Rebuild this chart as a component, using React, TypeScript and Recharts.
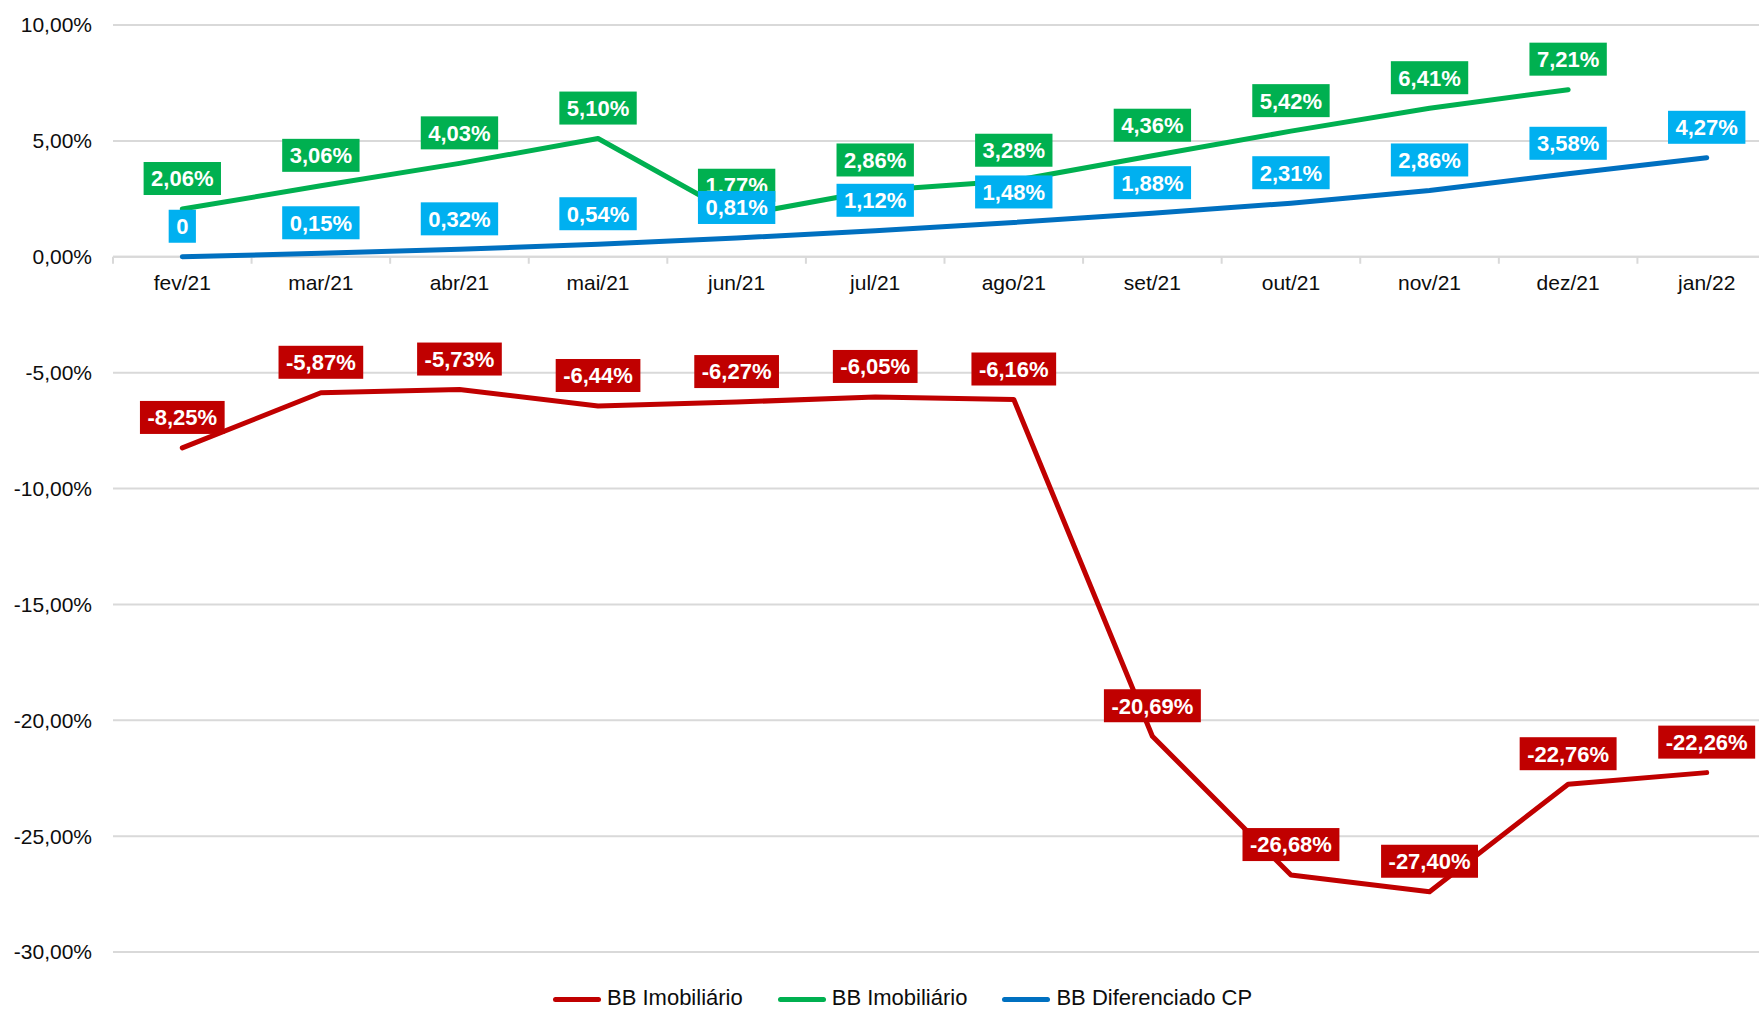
import React from "react";
import { LineChart, Line, XAxis, YAxis, CartesianGrid, ReferenceLine } from "recharts";

const months = ["fev/21", "mar/21", "abr/21", "mai/21", "jun/21", "jul/21", "ago/21", "set/21", "out/21", "nov/21", "dez/21", "jan/22"];
const imobiliarioRed = [-8.25, -5.87, -5.73, -6.44, -6.27, -6.05, -6.16, -20.69, -26.68, -27.4, -22.76, -22.26];
const imobiliarioGreen = [2.06, 3.06, 4.03, 5.1, 1.77, 2.86, 3.28, 4.36, 5.42, 6.41, 7.21, null];
const diferenciadoCP = [0, 0.15, 0.32, 0.54, 0.81, 1.12, 1.48, 1.88, 2.31, 2.86, 3.58, 4.27];
const yTicks = [-30, -25, -20, -15, -10, -5, 0, 5, 10];

const series = [
  { key: "red", name: "BB Imobiliário", color: "#c00000", box: "#c00000" },
  { key: "green", name: "BB Imobiliário", color: "#00b050", box: "#00b050" },
  { key: "blue", name: "BB Diferenciado CP", color: "#0070c0", box: "#00b0f0" },
];

const data = months.map((month, i) => ({
  month,
  red: imobiliarioRed[i],
  green: imobiliarioGreen[i],
  blue: diferenciadoCP[i],
}));

const FONT = '"Liberation Sans", Arial, sans-serif';
const CHART_W = 1776;
const CHART_H = 1010;
const YAXIS_W = 113;
const PLOT_W = CHART_W - YAXIS_W;
const HALF_STEP = PLOT_W / (2 * months.length);
const GRID = "#d9d9d9";
const INK = "#0d0d0d";

const pct = (v: number) => v.toFixed(2).replace(".", ",") + "%";
const fmtLabel = (v: number) => (v === 0 ? "0" : pct(v));

// rough bold Arial glyph widths (em)
const CW: Record<string, number> = { ",": 0.278, "-": 0.333, "%": 0.889 };
const textWidth = (s: string, size: number) =>
  [...s].reduce((w, c) => w + (CW[c] ?? 0.556) * size, 0);

const makeLabel = (fill: string) => (props: any) => {
  const { x, y, value, index } = props;
  if (value == null || x == null || y == null) return null;
  const text = fmtLabel(Number(value));
  const w = textWidth(text, 22) + 15;
  const h = 33;
  const cy = y - 30.5;
  return (
    <g key={`lbl-${index}`}>
      <rect x={x - w / 2} y={cy - h / 2} width={w} height={h} fill={fill} />
      <text
        x={x}
        y={cy}
        dy="0.36em"
        textAnchor="middle"
        fill="#fff"
        fontSize={22}
        fontWeight="bold"
        fontFamily={FONT}
      >
        {text}
      </text>
    </g>
  );
};

/** category axis drawn along the zero line */
const CategoryAxis = (props: any) => {
  const { x, y, width } = props.viewBox ?? {};
  if (x == null) return null;
  const step = width / months.length;
  return (
    <g>
      {months.map((m, i) => (
        <g key={m}>
          <line x1={x + i * step} x2={x + i * step} y1={y} y2={y + 7} stroke={GRID} strokeWidth={2} />
          <text
            x={x + (i + 0.5) * step}
            y={y + 33}
            textAnchor="middle"
            fontSize={21}
            fill={INK}
            fontFamily={FONT}
          >
            {m}
          </text>
        </g>
      ))}
    </g>
  );
};

export default function App() {
  return (
    <div
      style={{
        position: "absolute",
        left: 0,
        top: 0,
        width: 1759,
        height: 1010,
        overflow: "hidden",
        background: "#fff",
        fontFamily: FONT,
      }}
    >
      <LineChart width={CHART_W} height={CHART_H} data={data} margin={{ top: 25, right: 0, bottom: 58, left: 0 }}>
        <CartesianGrid vertical={false} stroke={GRID} strokeWidth={2} />
        <XAxis dataKey="month" hide padding={{ left: HALF_STEP, right: HALF_STEP }} />
        <YAxis
          width={YAXIS_W}
          domain={[-30, 10]}
          ticks={yTicks}
          tickFormatter={pct}
          axisLine={false}
          tickLine={false}
          tickSize={0}
          tickMargin={21}
          tick={{ fontSize: 21, fill: INK, fontFamily: FONT }}
        />
        <ReferenceLine y={0} stroke={GRID} strokeWidth={2} label={(p: any) => <CategoryAxis {...p} />} />
        {series.map((s) => (
          <Line
            key={s.key}
            dataKey={s.key}
            name={s.name}
            stroke={s.color}
            strokeWidth={5}
            strokeLinecap="round"
            strokeLinejoin="round"
            dot={false}
            activeDot={false}
            isAnimationActive={false}
            label={makeLabel(s.box)}
          />
        ))}
      </LineChart>
      <div
        style={{
          position: "absolute",
          left: 553,
          top: 986,
          display: "flex",
          alignItems: "center",
          fontSize: 22,
          lineHeight: "24px",
          color: INK,
        }}
      >
        {series.map((s) => (
          <div key={s.key} style={{ display: "flex", alignItems: "center", marginRight: 35 }}>
            <span
              style={{
                display: "inline-block",
                width: 48,
                height: 5,
                borderRadius: 3,
                background: s.color,
                marginRight: 6,
                marginTop: 2,
              }}
            />
            <span>{s.name}</span>
          </div>
        ))}
      </div>
    </div>
  );
}
